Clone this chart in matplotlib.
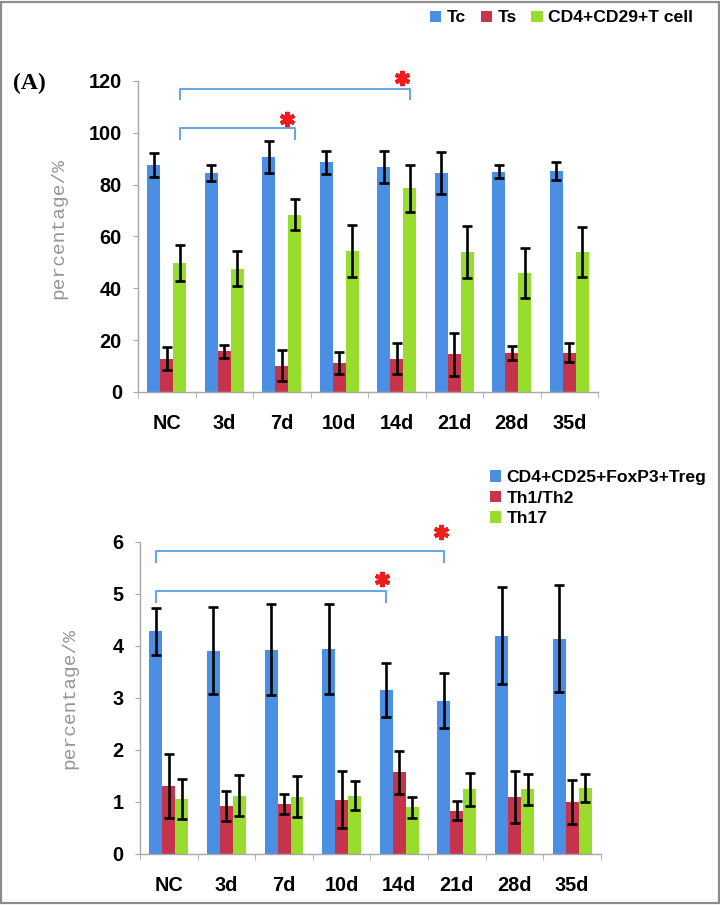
# === plot.py: T cell subsets over time (two bar panels) ===
import numpy as np
import matplotlib
matplotlib.use("Agg")
import matplotlib.pyplot as plt
from matplotlib.patches import Rectangle

# Step 1: data
days = ["NC", "3d", "7d", "10d", "14d", "21d", "28d", "35d"]

# panel A (percentage)
tc = [87.7, 84.5, 90.7, 88.7, 86.8, 84.5, 84.9, 85.3]
tc_err = [4.7, 2.9, 6.2, 4.4, 6.1, 8.0, 2.5, 3.6]
ts = [12.9, 15.7, 10.2, 11.3, 12.9, 14.5, 15.2, 15.2]
ts_err = [4.5, 2.6, 6.0, 4.3, 5.8, 8.2, 2.7, 3.6]
cd29 = [49.8, 47.6, 68.4, 54.4, 78.6, 54.0, 45.9, 54.0]
cd29_err = [7.1, 6.9, 5.9, 9.9, 9.1, 10.2, 9.7, 9.5]

# panel B (percentage)
treg = [4.28, 3.91, 3.93, 3.94, 3.16, 2.95, 4.20, 4.14]
treg_err = [0.455, 0.83, 0.88, 0.86, 0.52, 0.53, 0.93, 1.03]
th1th2 = [1.31, 0.92, 0.96, 1.04, 1.57, 0.83, 1.10, 1.00]
th1th2_err = [0.62, 0.29, 0.20, 0.55, 0.41, 0.18, 0.50, 0.42]
th17 = [1.06, 1.12, 1.10, 1.12, 0.90, 1.24, 1.24, 1.26]
th17_err = [0.39, 0.39, 0.39, 0.28, 0.20, 0.32, 0.30, 0.27]

# significance brackets: (from day, to day, bar level, leg end) and star spots
top_brackets = [(0, 4, 117, 113), (0, 2, 102, 97.6)]
top_stars = [(4.09, 121.0), (2.09, 105.2)]
bottom_brackets = [(0, 5, 5.82, 5.61), (0, 4, 5.06, 4.85)]
bottom_stars = [(4.72, 6.2), (3.70, 5.28)]

# Step 2: styles
blue = "#4a8fe3"
red = "#c6344c"
green = "#98dc2e"
bracket_col = "#6aa6e6"
bar_w = 0.225
tick_font = {"family": "Liberation Sans", "weight": "bold", "size": 14.3}
legend_font = {"family": "Liberation Sans", "weight": "bold", "size": 12.6}

fig = plt.figure(figsize=(7.2, 9.05), dpi=100)
ax1 = fig.add_axes([0.1917, 0.5669, 0.6389, 0.3436])
ax2 = fig.add_axes([0.1944, 0.0564, 0.6403, 0.3448])

x = np.arange(len(days))


def draw_panel(ax, series, errs, colors, ymax, ystep):
    bars = []
    for k, (vals, err, col) in enumerate(zip(series, errs, colors)):
        b = ax.bar(x + (k - 1) * bar_w, vals, bar_w, color=col,
                   yerr=err, capsize=3.6,
                   error_kw={"ecolor": "black", "elinewidth": 1.9, "capthick": 1.9},
                   zorder=2)
        bars.append(b)
    ax.set_xlim(-0.5, len(days) - 0.5)
    ax.set_ylim(0, ymax)
    ax.set_yticks(np.arange(0, ymax + ystep / 2, ystep))
    ax.set_xticks(x)
    ax.set_xticklabels(days)
    ax.set_xticks(np.arange(-0.5, len(days)), minor=True)
    for s in ["top", "right"]:
        ax.spines[s].set_visible(False)
    for s in ["left", "bottom"]:
        ax.spines[s].set_color("#a8a8a8")
        ax.spines[s].set_linewidth(1.0)
    ax.tick_params(axis="x", which="major", length=0, pad=16)
    ax.tick_params(axis="x", which="minor", length=4.5, color="#a8a8a8", direction="out")
    ax.tick_params(axis="y", length=3.6, color="#a8a8a8", direction="out", pad=8)
    for lab in ax.get_xticklabels() + ax.get_yticklabels():
        lab.set_fontproperties(tick_font)
    ax.set_ylabel("percentage/%", family="Liberation Mono", fontsize=14, color="#959595")
    return bars


def draw_bracket(ax, i0, i1, offset, ytop, yleg):
    x0 = i0 + offset
    x1 = i1 + offset
    ax.plot([x0, x0, x1, x1], [yleg, ytop, ytop, yleg], color=bracket_col,
            lw=1.5, clip_on=False, zorder=3)


# Step 3: panel A
bars1 = draw_panel(ax1, [tc, ts, cd29], [tc_err, ts_err, cd29_err],
                   [blue, red, green], 120, 20)
for i0, i1, yt, yl in top_brackets:
    draw_bracket(ax1, i0, i1, bar_w, yt, yl)
for sx, sy in top_stars:
    ax1.plot(sx, sy, marker=(6, 2, 0), ms=11, mew=3, color="#ee1c1c",
             clip_on=False, zorder=4)
ax1.yaxis.set_label_coords(-0.154, 0.527)

# Step 4: panel B
bars2 = draw_panel(ax2, [treg, th1th2, th17], [treg_err, th1th2_err, th17_err],
                   [blue, red, green], 6, 1)
for i0, i1, yt, yl in bottom_brackets:
    draw_bracket(ax2, i0, i1, -bar_w, yt, yl)
for sx, sy in bottom_stars:
    ax2.plot(sx, sy, marker=(6, 2, 0), ms=11, mew=3, color="#ee1c1c",
             clip_on=False, zorder=4)
ax2.yaxis.set_label_coords(-0.134, 0.497)

# Step 5: legends, panel tag, frame
fig.legend(bars1, ["Tc", "Ts", "CD4+CD29+T cell"], loc="center left",
           bbox_to_anchor=(430 / 720, 1 - 18 / 905), ncol=3, frameon=False,
           prop=legend_font, handlelength=0.65, handleheight=0.65,
           handletextpad=0.3, columnspacing=0.85, borderpad=0, borderaxespad=0)
fig.legend(bars2, ["CD4+CD25+FoxP3+Treg", "Th1/Th2", "Th17"], loc="center left",
           bbox_to_anchor=(490 / 720, 1 - 498 / 905), ncol=1, frameon=False,
           prop=legend_font, handlelength=0.65, handleheight=0.65,
           handletextpad=0.3, labelspacing=0.32, borderpad=0, borderaxespad=0)

fig.text(13 / 720, 1 - 83 / 905, "(A)", family="Liberation Serif", weight="bold",
         fontsize=17, ha="left", va="center")

fig.add_artist(Rectangle((0.002, 0.002), 0.996, 0.996, transform=fig.transFigure,
                         fill=False, ec="#8c8c8c", lw=1.6))

fig.savefig("out.png", dpi=100)
